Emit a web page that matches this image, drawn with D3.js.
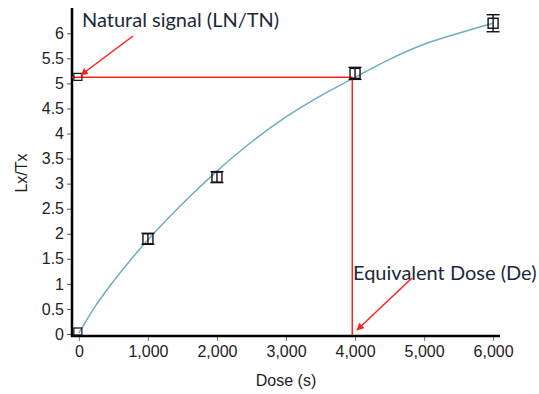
<!DOCTYPE html>
<html><head><meta charset="utf-8">
<script src="https://cdn.jsdelivr.net/npm/d3@7"></script>
<style>body{margin:0;background:#fff}svg{display:block}</style>
</head><body>
<script>
// Data
const xTicks = [0,1000,2000,3000,4000,5000,6000];
const yTicks = [0,0.5,1,1.5,2,2.5,3,3.5,4,4.5,5,5.5,6];
const pointDose = [1000,2000,4000,6000];
const pointValue = [1.9,3.13,5.2,6.2];
const pointErr = [0.07,0.05,0.12,0.17];
const zeroDose = [0,0];
const zeroValue = [0.04,5.12];
const curveDose = [0,250,500,1000,1500,2000,2500,3000,3500,4000,4500,5000,5500,6000];
const curveValue = [0.02,0.58,1.05,1.88,2.6,3.25,3.83,4.33,4.75,5.12,5.48,5.78,6.0,6.2];
const naturalLx = 5.12;
const equivDose = 3960;

const W=539,H=394;
const svg=d3.select("body").append("svg").attr("width",W).attr("height",H);
const x=d3.scaleLinear().domain([-100,6100]).range([72,500]);
const y=d3.scaleLinear().domain([0,6.5]).range([334,8.2]);
const tickFont='"Liberation Sans", Arial, sans-serif';

svg.append("defs").append("marker").attr("id","arr").attr("viewBox","0 0 10 10")
 .attr("refX",9).attr("refY",5).attr("markerWidth",5).attr("markerHeight",5).attr("orient","auto")
 .append("path").attr("d","M0,0L10,5L0,10z").attr("fill","#ff2020");

// y axis
const ya=svg.append("g").attr("transform","translate(72,0)")
 .call(d3.axisLeft(y).tickValues(yTicks).tickSize(5).tickPadding(3).tickFormat(d3.format("")));
ya.select(".domain").remove();
ya.selectAll(".tick line").attr("stroke","#555");
ya.selectAll("text").attr("font-family",tickFont).attr("font-size",16).attr("fill","#222");
svg.append("line").attr("x1",72).attr("x2",72).attr("y1",8).attr("y2",337).attr("stroke","#000").attr("stroke-width",2.5);

// x axis
const xa=svg.append("g").attr("transform","translate(0,336)")
 .call(d3.axisBottom(x).tickValues(xTicks).tickSize(5).tickPadding(5).tickFormat(d3.format(",")));
xa.select(".domain").remove();
xa.selectAll(".tick line").attr("stroke","#777");
xa.selectAll("text").attr("font-family",tickFont).attr("font-size",16).attr("fill","#222");
svg.append("line").attr("x1",71).attr("x2",500).attr("y1",336).attr("y2",336).attr("stroke","#000").attr("stroke-width",2.5);

// axis titles
svg.append("text").attr("x",286).attr("y",386).attr("text-anchor","middle")
 .attr("font-family",tickFont).attr("font-size",16).attr("fill","#222").text("Dose (s)");
svg.append("text").attr("transform","translate(27,173) rotate(-90)").attr("text-anchor","middle")
 .attr("font-family",tickFont).attr("font-size",16).attr("fill","#222").text("Lx/Tx");

// red lines
svg.append("line").attr("x1",x(-100)).attr("x2",x(equivDose)).attr("y1",y(naturalLx)).attr("y2",y(naturalLx))
 .attr("stroke","#ff2020").attr("stroke-width",1.5);
svg.append("line").attr("x1",x(equivDose)).attr("x2",x(equivDose)).attr("y1",y(naturalLx)).attr("y2",335)
 .attr("stroke","#ff2020").attr("stroke-width",1.5);

// curve
const curve=curveDose.map((d,i)=>[d,curveValue[i]]);
svg.append("path").datum(curve).attr("fill","none").attr("stroke","#6aaec2").attr("stroke-width",1.5)
 .attr("d",d3.line().x(d=>x(d[0])).y(d=>y(d[1])).curve(d3.curveMonotoneX));

// zero-dose squares
zeroDose.forEach((d,i)=>{
 svg.append("rect").attr("x",x(d)-5).attr("y",y(zeroValue[i])-4).attr("width",8).attr("height",7)
  .attr("fill","none").attr("stroke","#111").attr("stroke-width",1.2);
});
// points with error bars
pointDose.forEach((d,i)=>{
 const cx=x(d),cy=y(pointValue[i]),t=y(pointValue[i]+pointErr[i]),b=y(pointValue[i]-pointErr[i]);
 const g=svg.append("g").attr("stroke","#111").attr("stroke-width",1.4).attr("fill","none");
 g.append("rect").attr("x",cx-5).attr("y",cy-5).attr("width",10).attr("height",10);
 g.append("line").attr("x1",cx).attr("x2",cx).attr("y1",Math.min(t,cy-5)).attr("y2",Math.max(b,cy+5));
 g.append("line").attr("x1",cx-6.5).attr("x2",cx+6.5).attr("y1",Math.min(t,cy-5.5)).attr("y2",Math.min(t,cy-5.5));
 g.append("line").attr("x1",cx-6.5).attr("x2",cx+6.5).attr("y1",Math.max(b,cy+5.5)).attr("y2",Math.max(b,cy+5.5));
});

// annotations
const annFont='Lato, "Open Sans", sans-serif';
svg.append("text").attr("x",82).attr("y",27).attr("font-family",annFont).attr("font-size",20).attr("fill","#1a2a3c")
 .text("Natural signal (LN/TN)");
svg.append("line").attr("x1",133).attr("y1",36).attr("x2",81).attr("y2",75).attr("stroke","#ff2020").attr("stroke-width",1.5).attr("marker-end","url(#arr)");
svg.append("text").attr("x",353).attr("y",280).attr("font-family",annFont).attr("font-size",20).attr("fill","#1a2a3c")
 .text("Equivalent Dose (De)");
svg.append("line").attr("x1",412).attr("y1",278).attr("x2",357).attr("y2",330).attr("stroke","#ff2020").attr("stroke-width",1.5).attr("marker-end","url(#arr)");
</script>
</body></html>
